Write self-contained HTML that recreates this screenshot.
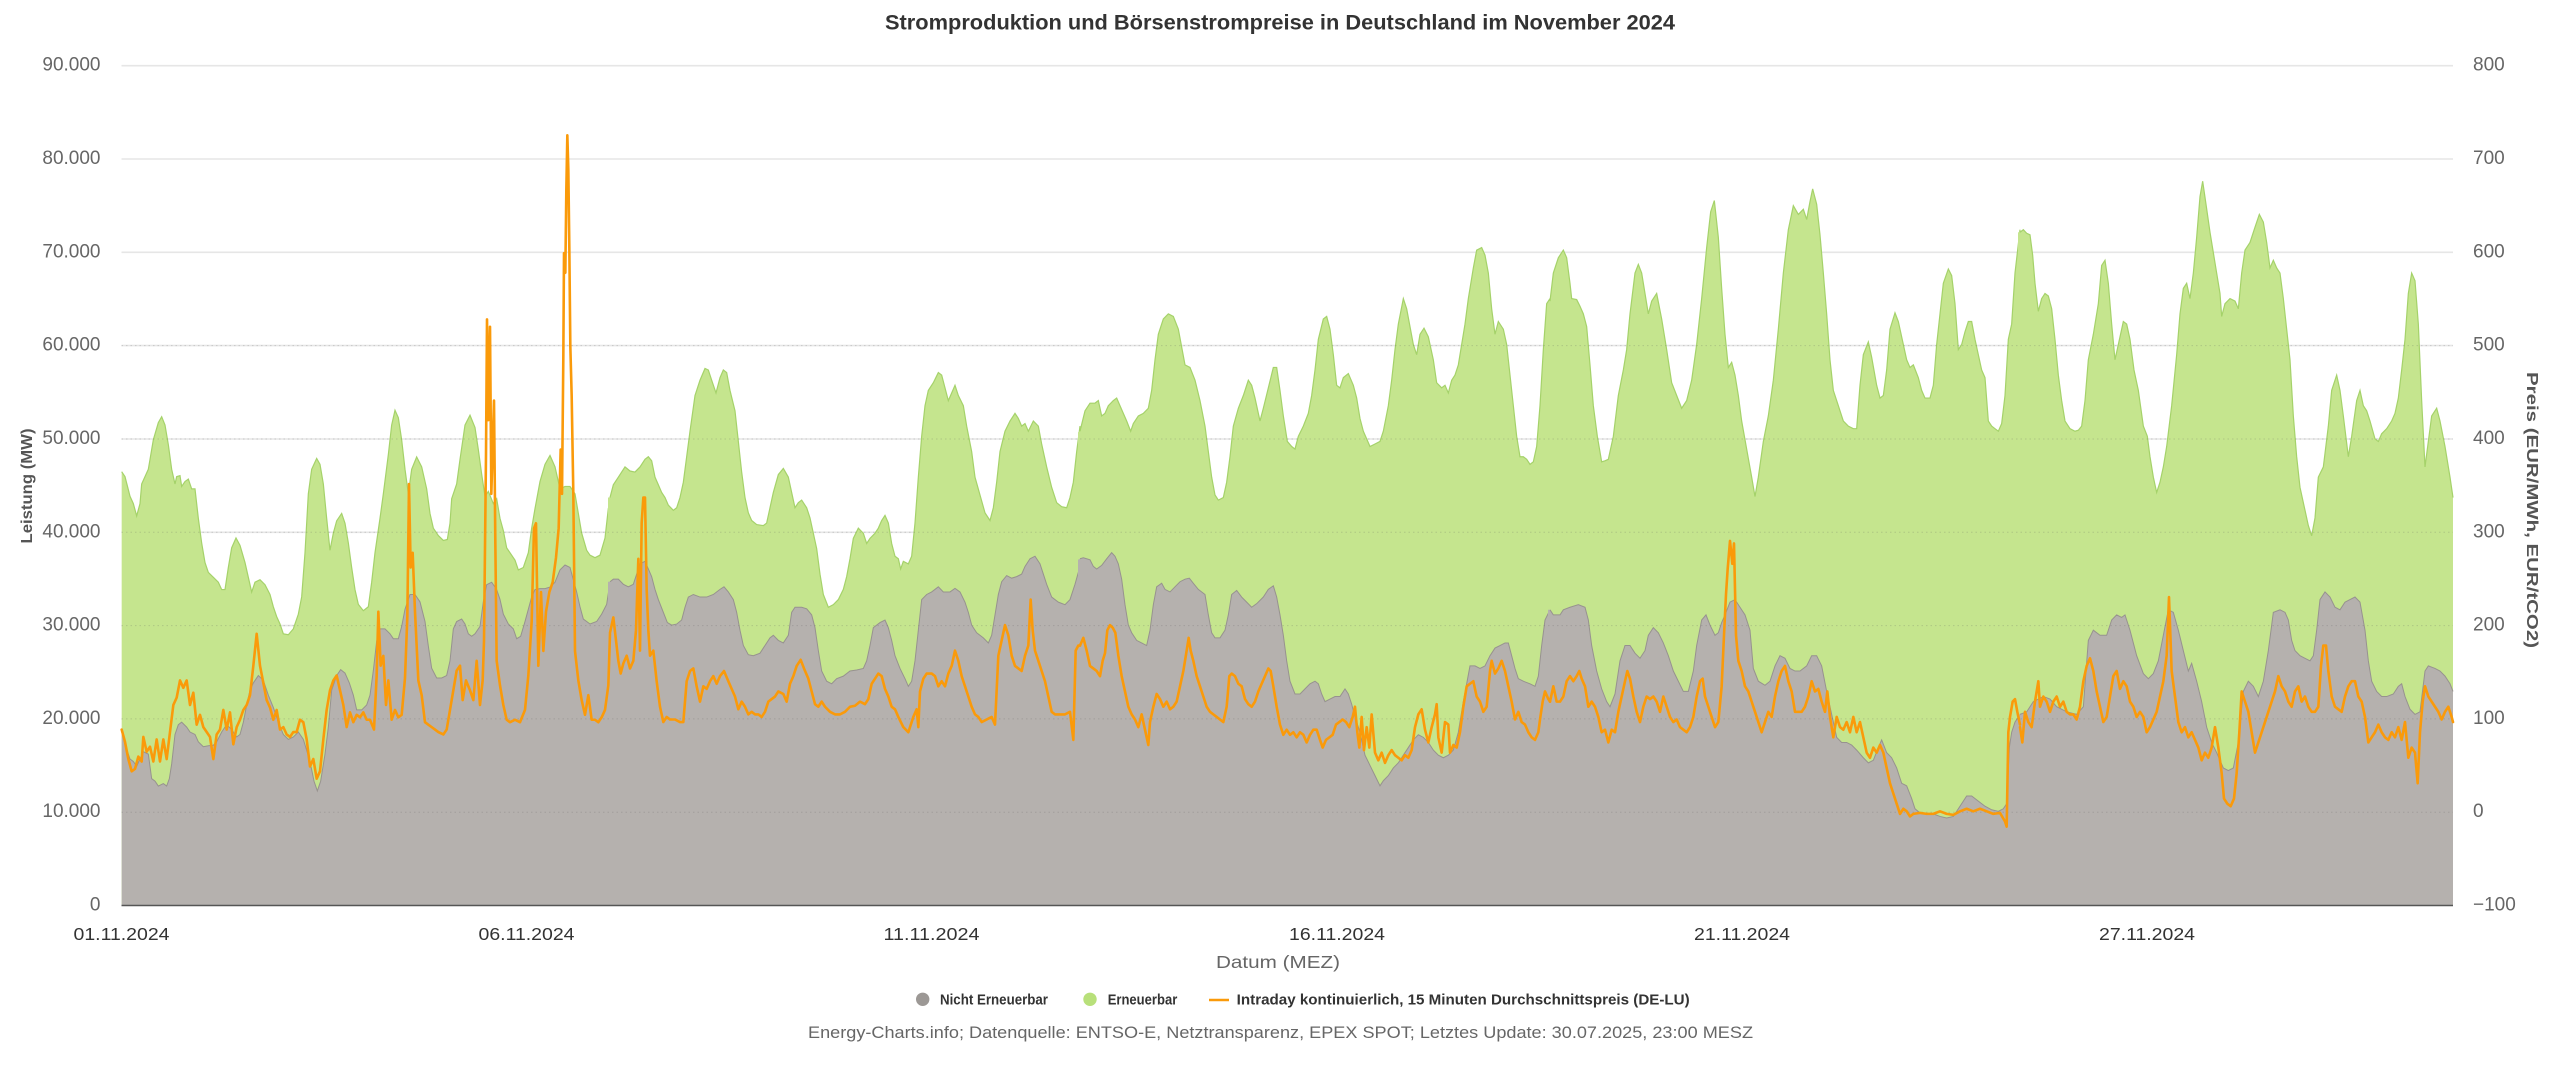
<!DOCTYPE html>
<html><head><meta charset="utf-8"><style>
html,body{margin:0;padding:0;background:#fff;width:2560px;height:1067px;overflow:hidden}
svg{display:block;font-family:"Liberation Sans",sans-serif}
</style></head><body>
<svg width="2560" height="1067" viewBox="0 0 2560 1067" xmlns="http://www.w3.org/2000/svg">
<rect width="2560" height="1067" fill="#fff"/>
<!-- gridlines -->
<g stroke="#e6e6e6" stroke-width="1.6">
<line x1="121.5" x2="2453" y1="65.7" y2="65.7"/><line x1="121.5" x2="2453" y1="159" y2="159"/><line x1="121.5" x2="2453" y1="252.3" y2="252.3"/><line x1="121.5" x2="2453" y1="345.6" y2="345.6"/><line x1="121.5" x2="2453" y1="439" y2="439"/><line x1="121.5" x2="2453" y1="532.3" y2="532.3"/><line x1="121.5" x2="2453" y1="625.6" y2="625.6"/><line x1="121.5" x2="2453" y1="718.9" y2="718.9"/><line x1="121.5" x2="2453" y1="812.2" y2="812.2"/>
</g>

<!-- Segment A -->
<g transform="translate(110 150) scale(0.333333 0.491159)">
<polygon fill="#c5e58e" points="35,655 45,665 60,705 70,720 80,745 90,720 95,680 105,665 115,650 120,630 130,590 145,555 155,543 165,560 175,600 185,650 195,680 200,665 210,663 215,685 225,675 235,670 245,690 255,690 265,750 275,800 285,840 295,860 310,870 325,880 335,895 345,895 355,850 365,810 378,790 390,805 405,840 415,870 425,900 435,880 450,875 465,885 480,905 490,930 500,950 510,965 520,985 535,987 550,975 565,945 575,910 585,820 595,700 605,650 620,628 630,640 640,680 650,750 660,815 670,780 680,755 695,740 705,760 715,800 725,850 735,895 745,925 760,938 775,930 785,880 795,820 810,750 820,700 835,620 845,560 855,530 865,545 875,590 885,650 895,700 905,650 920,625 935,645 950,690 960,740 970,770 985,785 1000,795 1012,793 1020,760 1025,710 1040,680 1050,630 1065,560 1080,540 1095,565 1105,610 1115,660 1125,705 1135,695 1150,720 1160,710 1170,750 1180,775 1190,810 1205,825 1215,835 1225,855 1240,850 1255,820 1265,770 1275,730 1290,675 1305,640 1320,622 1335,645 1350,690 1365,685 1380,685 1395,700 1405,740 1415,780 1430,815 1440,825 1455,830 1470,825 1485,790 1495,730 1502,720 1502,1538 35,1538"/>
<polyline fill="none" stroke="#a5d26a" stroke-width="1.2" vector-effect="non-scaling-stroke" points="35,655 45,665 60,705 70,720 80,745 90,720 95,680 105,665 115,650 120,630 130,590 145,555 155,543 165,560 175,600 185,650 195,680 200,665 210,663 215,685 225,675 235,670 245,690 255,690 265,750 275,800 285,840 295,860 310,870 325,880 335,895 345,895 355,850 365,810 378,790 390,805 405,840 415,870 425,900 435,880 450,875 465,885 480,905 490,930 500,950 510,965 520,985 535,987 550,975 565,945 575,910 585,820 595,700 605,650 620,628 630,640 640,680 650,750 660,815 670,780 680,755 695,740 705,760 715,800 725,850 735,895 745,925 760,938 775,930 785,880 795,820 810,750 820,700 835,620 845,560 855,530 865,545 875,590 885,650 895,700 905,650 920,625 935,645 950,690 960,740 970,770 985,785 1000,795 1012,793 1020,760 1025,710 1040,680 1050,630 1065,560 1080,540 1095,565 1105,610 1115,660 1125,705 1135,695 1150,720 1160,710 1170,750 1180,775 1190,810 1205,825 1215,835 1225,855 1240,850 1255,820 1265,770 1275,730 1290,675 1305,640 1320,622 1335,645 1350,690 1365,685 1380,685 1395,700 1405,740 1415,780 1430,815 1440,825 1455,830 1470,825 1485,790 1495,730 1500,720"/>
<polygon fill="#b5b1ae" points="35,1180 45,1210 60,1240 70,1245 80,1255 90,1240 100,1225 115,1230 125,1280 135,1285 145,1295 160,1290 170,1295 178,1280 185,1250 195,1190 205,1170 215,1165 230,1175 240,1185 255,1190 265,1205 280,1215 295,1213 310,1212 320,1205 335,1185 350,1170 365,1180 380,1195 390,1190 400,1165 410,1130 420,1100 430,1085 445,1070 460,1080 475,1110 490,1135 505,1165 520,1190 535,1200 550,1195 565,1185 580,1200 600,1245 612,1285 622,1305 632,1285 645,1230 655,1175 665,1100 680,1070 692,1058 705,1065 718,1085 730,1110 740,1140 755,1140 770,1130 780,1110 790,1060 800,1000 810,975 825,975 840,985 850,995 865,995 875,970 885,935 900,905 915,905 930,920 945,960 955,1010 965,1055 980,1075 995,1075 1010,1070 1020,1040 1030,975 1040,960 1055,955 1065,965 1075,985 1085,990 1095,985 1110,970 1120,920 1130,885 1145,880 1160,895 1170,915 1180,945 1195,965 1210,975 1220,995 1232,990 1245,960 1255,935 1265,910 1275,895 1290,893 1305,893 1320,890 1335,880 1350,855 1365,845 1380,850 1390,875 1400,900 1410,930 1420,955 1440,965 1460,960 1475,945 1490,925 1502,880 1502,1538 35,1538"/>
<polyline fill="none" stroke="#97928f" stroke-width="1" vector-effect="non-scaling-stroke" points="35,1180 45,1210 60,1240 70,1245 80,1255 90,1240 100,1225 115,1230 125,1280 135,1285 145,1295 160,1290 170,1295 178,1280 185,1250 195,1190 205,1170 215,1165 230,1175 240,1185 255,1190 265,1205 280,1215 295,1213 310,1212 320,1205 335,1185 350,1170 365,1180 380,1195 390,1190 400,1165 410,1130 420,1100 430,1085 445,1070 460,1080 475,1110 490,1135 505,1165 520,1190 535,1200 550,1195 565,1185 580,1200 600,1245 612,1285 622,1305 632,1285 645,1230 655,1175 665,1100 680,1070 692,1058 705,1065 718,1085 730,1110 740,1140 755,1140 770,1130 780,1110 790,1060 800,1000 810,975 825,975 840,985 850,995 865,995 875,970 885,935 900,905 915,905 930,920 945,960 955,1010 965,1055 980,1075 995,1075 1010,1070 1020,1040 1030,975 1040,960 1055,955 1065,965 1075,985 1085,990 1095,985 1110,970 1120,920 1130,885 1145,880 1160,895 1170,915 1180,945 1195,965 1210,975 1220,995 1232,990 1245,960 1255,935 1265,910 1275,895 1290,893 1305,893 1320,890 1335,880 1350,855 1365,845 1380,850 1390,875 1400,900 1410,930 1420,955 1440,965 1460,960 1475,945 1490,925 1500,880"/>
</g>

<!-- Segment B -->
<g transform="translate(580 120) scale(0.333333 0.510204)">
<polygon fill="#c5e58e" points="84,740 90,740 100,715 115,700 135,680 150,688 165,690 180,680 195,665 205,660 215,668 225,700 235,715 245,730 255,740 265,755 280,765 290,760 300,740 310,710 320,660 330,610 345,540 360,510 375,487 385,490 395,510 408,535 420,505 430,490 440,495 450,530 465,570 475,630 485,690 495,740 505,770 515,785 530,793 550,795 560,790 570,760 580,730 595,695 610,683 625,700 635,730 645,760 655,750 665,745 680,760 690,780 700,810 710,840 720,890 730,930 745,955 760,950 775,940 790,920 800,895 810,860 820,820 835,800 850,810 860,830 870,820 885,810 895,800 905,785 915,775 925,790 935,830 945,855 955,860 962,880 970,865 985,870 995,855 1005,790 1015,700 1025,620 1035,560 1045,530 1060,515 1075,495 1085,500 1095,525 1105,550 1115,535 1125,520 1135,540 1150,560 1160,600 1175,650 1185,700 1200,735 1215,770 1230,785 1240,760 1250,710 1260,650 1275,610 1290,590 1305,575 1315,585 1325,600 1335,595 1345,610 1360,590 1375,600 1385,635 1400,680 1415,720 1430,750 1445,758 1460,760 1470,740 1480,710 1490,650 1502,600 1502,1540 84,1540"/>
<polyline fill="none" stroke="#a5d26a" stroke-width="1.2" vector-effect="non-scaling-stroke" points="90,740 100,715 115,700 135,680 150,688 165,690 180,680 195,665 205,660 215,668 225,700 235,715 245,730 255,740 265,755 280,765 290,760 300,740 310,710 320,660 330,610 345,540 360,510 375,487 385,490 395,510 408,535 420,505 430,490 440,495 450,530 465,570 475,630 485,690 495,740 505,770 515,785 530,793 550,795 560,790 570,760 580,730 595,695 610,683 625,700 635,730 645,760 655,750 665,745 680,760 690,780 700,810 710,840 720,890 730,930 745,955 760,950 775,940 790,920 800,895 810,860 820,820 835,800 850,810 860,830 870,820 885,810 895,800 905,785 915,775 925,790 935,830 945,855 955,860 962,880 970,865 985,870 995,855 1005,790 1015,700 1025,620 1035,560 1045,530 1060,515 1075,495 1085,500 1095,525 1105,550 1115,535 1125,520 1135,540 1150,560 1160,600 1175,650 1185,700 1200,735 1215,770 1230,785 1240,760 1250,710 1260,650 1275,610 1290,590 1305,575 1315,585 1325,600 1335,595 1345,610 1360,590 1375,600 1385,635 1400,680 1415,720 1430,750 1445,758 1460,760 1470,740 1480,710 1490,650 1500,600"/>
<polygon fill="#b5b1ae" points="84,905 90,905 100,900 115,900 130,910 145,915 160,910 170,890 180,870 195,865 205,880 215,895 225,920 235,940 250,965 262,985 275,990 290,988 305,980 315,955 325,935 340,930 360,935 380,935 400,930 420,920 432,915 445,925 460,940 470,965 480,1000 490,1030 505,1048 520,1050 540,1045 555,1030 570,1015 580,1010 595,1020 610,1025 625,1010 635,965 645,955 665,955 680,958 695,970 705,995 715,1040 725,1080 740,1100 755,1105 770,1095 790,1090 810,1080 830,1078 850,1075 860,1060 870,1030 880,995 900,985 915,980 925,995 935,1020 945,1050 960,1075 975,1095 985,1110 995,1100 1005,1060 1015,1000 1025,940 1040,930 1055,925 1075,915 1090,925 1110,925 1125,918 1140,925 1155,945 1165,965 1175,990 1190,1005 1210,1015 1225,1025 1235,1010 1245,970 1255,930 1265,905 1280,893 1295,898 1310,895 1325,890 1335,875 1350,860 1365,855 1380,870 1390,890 1400,910 1415,935 1435,945 1455,950 1470,940 1485,910 1502,875 1502,1540 84,1540"/>
<polyline fill="none" stroke="#97928f" stroke-width="1" vector-effect="non-scaling-stroke" points="90,905 100,900 115,900 130,910 145,915 160,910 170,890 180,870 195,865 205,880 215,895 225,920 235,940 250,965 262,985 275,990 290,988 305,980 315,955 325,935 340,930 360,935 380,935 400,930 420,920 432,915 445,925 460,940 470,965 480,1000 490,1030 505,1048 520,1050 540,1045 555,1030 570,1015 580,1010 595,1020 610,1025 625,1010 635,965 645,955 665,955 680,958 695,970 705,995 715,1040 725,1080 740,1100 755,1105 770,1095 790,1090 810,1080 830,1078 850,1075 860,1060 870,1030 880,995 900,985 915,980 925,995 935,1020 945,1050 960,1075 975,1095 985,1110 995,1100 1005,1060 1015,1000 1025,940 1040,930 1055,925 1075,915 1090,925 1110,925 1125,918 1140,925 1155,945 1165,965 1175,990 1190,1005 1210,1015 1225,1025 1235,1010 1245,970 1255,930 1265,905 1280,893 1295,898 1310,895 1325,890 1335,875 1350,860 1365,855 1380,870 1390,890 1400,910 1415,935 1435,945 1455,950 1470,940 1485,910 1500,875"/>
</g>

<!-- Segment C -->
<g transform="translate(1050 120) scale(0.333333 0.510204)">
<polygon fill="#c5e58e" points="84,612 90,610 105,570 120,555 135,555 145,550 155,580 165,575 175,560 190,550 200,545 210,560 220,575 230,590 242,610 250,595 265,580 280,575 295,565 305,530 315,470 325,420 340,390 355,380 370,385 385,410 395,445 405,480 420,485 435,510 450,550 465,600 475,650 485,700 495,735 505,745 520,740 530,710 540,660 550,600 565,565 580,540 595,510 605,520 615,545 630,590 640,565 655,525 670,485 680,485 690,530 700,580 712,630 725,640 735,645 745,620 760,600 775,575 785,540 795,490 805,430 820,390 830,385 840,410 850,460 860,520 870,525 880,505 895,497 910,520 920,545 930,585 940,610 950,625 960,640 975,635 990,630 1000,610 1015,560 1025,510 1035,450 1045,400 1060,350 1070,370 1080,405 1090,440 1100,460 1110,420 1122,408 1135,425 1150,470 1160,515 1175,525 1185,520 1195,535 1205,510 1215,500 1225,480 1235,440 1245,400 1255,350 1270,290 1280,255 1295,250 1305,265 1315,300 1325,370 1335,420 1345,395 1360,410 1370,440 1380,500 1390,560 1400,620 1410,660 1420,660 1430,665 1440,675 1450,670 1460,640 1470,560 1480,450 1490,360 1502,350 1502,1540 84,1540"/>
<polyline fill="none" stroke="#a5d26a" stroke-width="1.2" vector-effect="non-scaling-stroke" points="90,610 105,570 120,555 135,555 145,550 155,580 165,575 175,560 190,550 200,545 210,560 220,575 230,590 242,610 250,595 265,580 280,575 295,565 305,530 315,470 325,420 340,390 355,380 370,385 385,410 395,445 405,480 420,485 435,510 450,550 465,600 475,650 485,700 495,735 505,745 520,740 530,710 540,660 550,600 565,565 580,540 595,510 605,520 615,545 630,590 640,565 655,525 670,485 680,485 690,530 700,580 712,630 725,640 735,645 745,620 760,600 775,575 785,540 795,490 805,430 820,390 830,385 840,410 850,460 860,520 870,525 880,505 895,497 910,520 920,545 930,585 940,610 950,625 960,640 975,635 990,630 1000,610 1015,560 1025,510 1035,450 1045,400 1060,350 1070,370 1080,405 1090,440 1100,460 1110,420 1122,408 1135,425 1150,470 1160,515 1175,525 1185,520 1195,535 1205,510 1215,500 1225,480 1235,440 1245,400 1255,350 1270,290 1280,255 1295,250 1305,265 1315,300 1325,370 1335,420 1345,395 1360,410 1370,440 1380,500 1390,560 1400,620 1410,660 1420,660 1430,665 1440,675 1450,670 1460,640 1470,560 1480,450 1490,360 1500,350"/>
<polygon fill="#b5b1ae" points="84,862 90,860 100,858 120,862 130,875 140,880 155,873 170,860 185,848 195,855 205,870 215,900 225,950 235,990 245,1005 260,1020 275,1025 290,1030 300,1000 310,950 320,915 335,908 345,920 360,925 375,915 390,905 405,900 418,898 430,908 445,920 465,930 475,970 485,1005 495,1015 510,1015 525,1000 535,970 545,930 560,922 575,935 590,945 605,955 620,948 640,935 655,920 670,913 680,935 690,970 700,1010 710,1060 720,1100 735,1125 750,1125 765,1115 780,1105 795,1100 805,1105 815,1125 825,1140 840,1135 855,1130 870,1130 885,1115 895,1125 905,1145 915,1170 930,1200 945,1245 960,1265 975,1285 990,1305 1000,1295 1015,1285 1030,1270 1045,1260 1060,1245 1075,1230 1090,1215 1105,1205 1120,1210 1135,1220 1150,1235 1165,1245 1180,1250 1195,1245 1210,1235 1225,1200 1240,1140 1250,1105 1260,1070 1275,1070 1290,1075 1305,1070 1320,1050 1335,1035 1350,1030 1365,1025 1375,1025 1385,1050 1395,1075 1405,1095 1420,1100 1440,1105 1455,1110 1465,1090 1475,1030 1485,980 1502,960 1502,1540 84,1540"/>
<polyline fill="none" stroke="#97928f" stroke-width="1" vector-effect="non-scaling-stroke" points="90,860 100,858 120,862 130,875 140,880 155,873 170,860 185,848 195,855 205,870 215,900 225,950 235,990 245,1005 260,1020 275,1025 290,1030 300,1000 310,950 320,915 335,908 345,920 360,925 375,915 390,905 405,900 418,898 430,908 445,920 465,930 475,970 485,1005 495,1015 510,1015 525,1000 535,970 545,930 560,922 575,935 590,945 605,955 620,948 640,935 655,920 670,913 680,935 690,970 700,1010 710,1060 720,1100 735,1125 750,1125 765,1115 780,1105 795,1100 805,1105 815,1125 825,1140 840,1135 855,1130 870,1130 885,1115 895,1125 905,1145 915,1170 930,1200 945,1245 960,1265 975,1285 990,1305 1000,1295 1015,1285 1030,1270 1045,1260 1060,1245 1075,1230 1090,1215 1105,1205 1120,1210 1135,1220 1150,1235 1165,1245 1180,1250 1195,1245 1210,1235 1225,1200 1240,1140 1250,1105 1260,1070 1275,1070 1290,1075 1305,1070 1320,1050 1335,1035 1350,1030 1365,1025 1375,1025 1385,1050 1395,1075 1405,1095 1420,1100 1440,1105 1455,1110 1465,1090 1475,1030 1485,980 1500,960"/>
</g>

<!-- Segment D -->
<g transform="translate(1520 120) scale(0.333333 0.510204)">
<polygon fill="#c5e58e" points="84,360 90,355 100,300 115,270 130,255 140,270 150,320 155,350 170,352 180,365 190,380 200,405 210,480 220,560 232,620 245,670 255,668 265,665 280,620 295,540 310,490 320,450 330,380 345,300 355,283 365,300 375,340 385,380 395,355 410,340 425,390 440,450 455,515 470,540 485,565 500,550 515,510 530,440 545,350 560,250 572,180 583,158 595,230 605,330 615,420 625,485 635,475 645,500 655,540 665,590 680,645 695,700 705,738 715,700 730,630 745,580 760,510 775,410 790,300 805,215 820,168 835,185 850,175 860,195 870,160 878,135 890,165 900,225 910,300 920,380 930,470 940,530 955,560 970,590 985,600 1000,605 1010,605 1020,520 1030,460 1045,435 1055,465 1070,520 1080,545 1090,540 1100,490 1110,410 1125,378 1135,395 1150,440 1160,470 1170,485 1180,480 1195,505 1205,530 1215,545 1230,545 1240,520 1250,440 1260,380 1270,320 1285,292 1295,305 1305,360 1315,450 1325,440 1335,415 1345,395 1355,395 1365,430 1375,460 1385,490 1395,505 1405,590 1415,600 1425,605 1435,610 1445,595 1455,540 1465,430 1475,400 1485,300 1502,215 1502,1540 84,1540"/>
<polyline fill="none" stroke="#a5d26a" stroke-width="1.2" vector-effect="non-scaling-stroke" points="90,355 100,300 115,270 130,255 140,270 150,320 155,350 170,352 180,365 190,380 200,405 210,480 220,560 232,620 245,670 255,668 265,665 280,620 295,540 310,490 320,450 330,380 345,300 355,283 365,300 375,340 385,380 395,355 410,340 425,390 440,450 455,515 470,540 485,565 500,550 515,510 530,440 545,350 560,250 572,180 583,158 595,230 605,330 615,420 625,485 635,475 645,500 655,540 665,590 680,645 695,700 705,738 715,700 730,630 745,580 760,510 775,410 790,300 805,215 820,168 835,185 850,175 860,195 870,160 878,135 890,165 900,225 910,300 920,380 930,470 940,530 955,560 970,590 985,600 1000,605 1010,605 1020,520 1030,460 1045,435 1055,465 1070,520 1080,545 1090,540 1100,490 1110,410 1125,378 1135,395 1150,440 1160,470 1170,485 1180,480 1195,505 1205,530 1215,545 1230,545 1240,520 1250,440 1260,380 1270,320 1285,292 1295,305 1305,360 1315,450 1325,440 1335,415 1345,395 1355,395 1365,430 1375,460 1385,490 1395,505 1405,590 1415,600 1425,605 1435,610 1445,595 1455,540 1465,430 1475,400 1485,300 1500,215"/>
<polygon fill="#b5b1ae" points="84,960 90,960 100,970 120,970 130,960 150,955 175,950 195,955 205,980 215,1030 230,1080 245,1115 260,1140 270,1150 285,1125 300,1060 315,1030 330,1030 345,1045 360,1055 375,1040 385,1010 400,995 415,1005 430,1025 445,1050 460,1080 475,1100 490,1120 505,1120 520,1080 530,1030 545,980 558,970 570,990 585,1010 595,1005 605,985 615,970 630,945 645,940 660,955 675,970 690,1000 700,1075 715,1100 735,1108 750,1100 765,1070 780,1050 795,1055 810,1075 825,1080 840,1080 860,1070 875,1050 890,1050 905,1070 920,1120 935,1165 950,1210 965,1220 980,1220 995,1225 1010,1235 1030,1250 1045,1260 1060,1255 1075,1230 1085,1215 1100,1240 1115,1250 1130,1270 1145,1300 1160,1305 1175,1330 1185,1350 1200,1358 1220,1360 1240,1360 1260,1365 1280,1368 1300,1365 1320,1345 1340,1325 1355,1325 1375,1335 1395,1345 1415,1352 1435,1355 1450,1350 1460,1340 1468,1230 1475,1200 1485,1180 1502,1165 1502,1540 84,1540"/>
<polyline fill="none" stroke="#97928f" stroke-width="1" vector-effect="non-scaling-stroke" points="90,960 100,970 120,970 130,960 150,955 175,950 195,955 205,980 215,1030 230,1080 245,1115 260,1140 270,1150 285,1125 300,1060 315,1030 330,1030 345,1045 360,1055 375,1040 385,1010 400,995 415,1005 430,1025 445,1050 460,1080 475,1100 490,1120 505,1120 520,1080 530,1030 545,980 558,970 570,990 585,1010 595,1005 605,985 615,970 630,945 645,940 660,955 675,970 690,1000 700,1075 715,1100 735,1108 750,1100 765,1070 780,1050 795,1055 810,1075 825,1080 840,1080 860,1070 875,1050 890,1050 905,1070 920,1120 935,1165 950,1210 965,1220 980,1220 995,1225 1010,1235 1030,1250 1045,1260 1060,1255 1075,1230 1085,1215 1100,1240 1115,1250 1130,1270 1145,1300 1160,1305 1175,1330 1185,1350 1200,1358 1220,1360 1240,1360 1260,1365 1280,1368 1300,1365 1320,1345 1340,1325 1355,1325 1375,1335 1395,1345 1415,1352 1435,1355 1450,1350 1460,1340 1468,1230 1475,1200 1485,1180 1500,1165"/>
</g>

<!-- Segment E -->
<g transform="translate(1990 120) scale(0.333333 0.510204)">
<polygon fill="#c5e58e" points="84,220 90,220 100,215 110,222 120,225 128,265 135,320 145,375 155,350 165,340 175,345 185,370 195,430 205,500 215,550 225,590 240,605 255,610 265,608 275,600 285,550 295,470 310,420 325,360 335,285 345,275 355,320 365,400 375,470 385,440 400,395 410,400 420,430 432,490 445,530 460,600 472,620 480,660 490,700 500,730 510,710 520,680 530,640 545,560 560,460 570,380 580,330 590,320 600,350 610,300 620,230 630,150 638,120 648,165 660,220 670,260 680,300 690,340 695,385 705,360 720,350 735,355 745,370 755,300 765,255 780,240 795,210 808,185 820,200 830,240 840,290 850,275 860,290 870,300 880,350 890,410 900,470 910,580 920,660 930,720 945,765 955,795 965,815 975,780 985,700 1000,680 1015,600 1025,530 1040,500 1050,530 1060,580 1075,660 1085,620 1100,550 1110,530 1120,560 1130,570 1140,590 1155,625 1165,630 1175,615 1190,605 1205,590 1215,575 1225,545 1235,490 1245,430 1255,340 1265,300 1275,315 1285,400 1295,550 1305,680 1315,630 1325,580 1340,565 1350,590 1365,640 1380,700 1389,740 1389,1540 84,1540"/>
<polyline fill="none" stroke="#a5d26a" stroke-width="1.2" vector-effect="non-scaling-stroke" points="90,220 100,215 110,222 120,225 128,265 135,320 145,375 155,350 165,340 175,345 185,370 195,430 205,500 215,550 225,590 240,605 255,610 265,608 275,600 285,550 295,470 310,420 325,360 335,285 345,275 355,320 365,400 375,470 385,440 400,395 410,400 420,430 432,490 445,530 460,600 472,620 480,660 490,700 500,730 510,710 520,680 530,640 545,560 560,460 570,380 580,330 590,320 600,350 610,300 620,230 630,150 638,120 648,165 660,220 670,260 680,300 690,340 695,385 705,360 720,350 735,355 745,370 755,300 765,255 780,240 795,210 808,185 820,200 830,240 840,290 850,275 860,290 870,300 880,350 890,410 900,470 910,580 920,660 930,720 945,765 955,795 965,815 975,780 985,700 1000,680 1015,600 1025,530 1040,500 1050,530 1060,580 1075,660 1085,620 1100,550 1110,530 1120,560 1130,570 1140,590 1155,625 1165,630 1175,615 1190,605 1205,590 1215,575 1225,545 1235,490 1245,430 1255,340 1265,300 1275,315 1285,400 1295,550 1305,680 1315,630 1325,580 1340,565 1350,590 1365,640 1380,700 1389,740"/>
<polygon fill="#b5b1ae" points="84,1165 90,1165 110,1160 130,1140 160,1130 180,1135 200,1150 230,1160 260,1165 280,1150 295,1020 310,1000 330,1010 350,1010 365,980 380,970 395,975 405,970 420,1000 440,1050 460,1085 475,1095 490,1085 505,1060 520,1010 535,960 550,965 565,1000 580,1040 595,1080 605,1065 620,1100 635,1140 650,1190 665,1220 680,1240 700,1270 715,1275 730,1270 745,1220 760,1120 775,1100 790,1110 805,1130 820,1100 835,1040 850,965 870,960 885,965 895,980 905,1020 915,1040 930,1050 945,1055 960,1060 970,1050 980,1000 990,940 1005,925 1020,935 1035,955 1050,960 1065,945 1080,940 1095,935 1110,945 1125,1000 1135,1060 1145,1100 1160,1120 1175,1130 1190,1130 1210,1125 1225,1110 1235,1105 1245,1130 1260,1155 1275,1165 1290,1160 1305,1080 1315,1070 1335,1075 1350,1080 1365,1090 1380,1105 1389,1120 1389,1540 84,1540"/>
<polyline fill="none" stroke="#97928f" stroke-width="1" vector-effect="non-scaling-stroke" points="90,1165 110,1160 130,1140 160,1130 180,1135 200,1150 230,1160 260,1165 280,1150 295,1020 310,1000 330,1010 350,1010 365,980 380,970 395,975 405,970 420,1000 440,1050 460,1085 475,1095 490,1085 505,1060 520,1010 535,960 550,965 565,1000 580,1040 595,1080 605,1065 620,1100 635,1140 650,1190 665,1220 680,1240 700,1270 715,1275 730,1270 745,1220 760,1120 775,1100 790,1110 805,1130 820,1100 835,1040 850,965 870,960 885,965 895,980 905,1020 915,1040 930,1050 945,1055 960,1060 970,1050 980,1000 990,940 1005,925 1020,935 1035,955 1050,960 1065,945 1080,940 1095,935 1110,945 1125,1000 1135,1060 1145,1100 1160,1120 1175,1130 1190,1130 1210,1125 1225,1110 1235,1105 1245,1130 1260,1155 1275,1165 1290,1160 1305,1080 1315,1070 1335,1075 1350,1080 1365,1090 1380,1105 1389,1120"/>
</g>

<!-- dotted overlay grid -->
<g stroke="rgba(90,90,90,0.22)" stroke-width="1" stroke-dasharray="1.5 3">
<line x1="121.5" x2="2453" y1="345.6" y2="345.6"/><line x1="121.5" x2="2453" y1="439" y2="439"/><line x1="121.5" x2="2453" y1="532.3" y2="532.3"/><line x1="121.5" x2="2453" y1="625.6" y2="625.6"/><line x1="121.5" x2="2453" y1="718.9" y2="718.9"/><line x1="121.5" x2="2453" y1="812.2" y2="812.2"/>
</g>

<!-- Orange price line -->
<g fill="none" stroke="#fa9a0a" stroke-width="2.6" stroke-linejoin="round" stroke-linecap="round">
<g transform="translate(110 150) scale(0.333333 0.491159)">
<polyline vector-effect="non-scaling-stroke" points="35,1180 45,1205 55,1240 65,1265 75,1260 85,1235 95,1245 100,1195 110,1225 120,1215 130,1245 140,1200 150,1245 160,1200 170,1240 180,1185 190,1130 200,1115 210,1080 220,1095 230,1080 240,1130 250,1105 260,1170 270,1150 280,1175 290,1185 300,1195 310,1240 320,1190 330,1180 340,1140 350,1180 360,1145 370,1210 380,1175 390,1160 400,1140 410,1130 420,1110 430,1050 440,985 450,1050 460,1085 470,1120 480,1135 490,1160 500,1140 510,1180 520,1175 530,1190 540,1195 550,1185 560,1185 570,1160 580,1165 590,1200 600,1255 610,1240 620,1280 630,1265 640,1200 650,1140 660,1100 670,1080 680,1070 690,1100 700,1130 710,1175 720,1145 730,1165 740,1150 750,1155 760,1145 770,1160 780,1160 792,1180 800,1070 805,940 812,1050 820,1030 828,1130 835,1080 845,1160 855,1140 865,1155 875,1150 885,1075 892,950 897,680 902,850 908,820 915,940 925,1080 935,1110 945,1165 955,1170 965,1175 975,1180 985,1185 1000,1190 1010,1180 1020,1140 1030,1100 1040,1060 1050,1050 1058,1120 1068,1080 1080,1100 1090,1120 1100,1040 1110,1130 1118,1080 1122,1000 1128,620 1131,345 1135,550 1140,360 1144,700 1148,600 1152,510 1156,800 1160,1040 1170,1090 1180,1130 1190,1160 1200,1165 1215,1160 1230,1165 1245,1140 1255,1070 1265,960 1272,770 1278,760 1285,1050 1293,900 1300,1020 1308,940 1318,900 1328,880 1338,830 1346,770 1352,610 1356,700 1360,420 1362,210 1366,250 1369,80 1372,-30 1375,40 1378,200 1381,400 1385,500 1390,700 1395,1020 1405,1080 1415,1120 1425,1150 1435,1110 1445,1160 1455,1160 1465,1165 1475,1155 1485,1140 1495,1090 1500,985"/>
</g>
<g transform="translate(580 120) scale(0.333333 0.510204)">
<polyline vector-effect="non-scaling-stroke" points="90,1005 100,975 108,1020 115,1060 122,1085 130,1065 140,1050 150,1075 160,1060 168,1000 175,860 180,1040 185,790 190,740 195,740 200,920 205,1000 210,1050 220,1040 230,1100 240,1150 250,1180 260,1170 270,1175 285,1175 300,1180 310,1180 320,1100 330,1080 340,1075 350,1110 360,1140 370,1110 380,1115 390,1100 400,1090 410,1105 420,1090 432,1080 445,1100 455,1115 465,1130 475,1155 485,1140 495,1150 505,1165 515,1160 525,1165 535,1165 545,1170 555,1160 565,1140 575,1135 585,1130 595,1120 610,1125 620,1140 630,1105 640,1090 650,1070 662,1058 672,1075 685,1095 695,1120 705,1145 715,1150 725,1140 735,1150 750,1160 765,1165 780,1165 795,1160 810,1150 825,1148 840,1140 855,1145 865,1135 875,1105 885,1095 895,1085 905,1090 915,1115 925,1130 935,1150 945,1155 955,1170 970,1190 985,1200 1000,1170 1010,1155 1015,1190 1020,1120 1030,1095 1040,1085 1055,1085 1065,1090 1075,1110 1085,1100 1095,1110 1105,1085 1115,1070 1125,1040 1135,1060 1145,1090 1155,1110 1165,1130 1175,1150 1185,1165 1195,1170 1205,1180 1220,1175 1235,1170 1245,1185 1255,1050 1265,1020 1275,990 1285,1010 1295,1050 1305,1070 1315,1075 1325,1080 1335,1050 1345,1030 1352,940 1358,1000 1365,1040 1375,1060 1385,1080 1395,1100 1405,1130 1415,1160 1425,1165 1440,1165 1455,1165 1470,1160 1480,1215 1487,1040 1495,1030 1500,1030"/>
</g>
<g transform="translate(1050 120) scale(0.333333 0.510204)">
<polyline vector-effect="non-scaling-stroke" points="90,1030 100,1015 110,1040 120,1070 130,1075 140,1080 150,1090 158,1060 165,1045 172,1000 180,990 188,995 196,1005 205,1050 215,1090 225,1120 235,1150 245,1165 255,1175 265,1190 275,1165 285,1195 295,1225 300,1180 310,1150 320,1125 330,1135 340,1150 350,1140 360,1155 370,1150 380,1140 390,1110 400,1080 410,1040 416,1015 422,1040 430,1060 440,1090 450,1110 460,1130 470,1150 480,1160 490,1165 500,1170 510,1175 520,1180 530,1150 538,1090 545,1085 555,1090 565,1105 575,1110 585,1135 595,1145 605,1150 615,1140 625,1120 635,1105 645,1090 655,1075 662,1080 670,1110 680,1150 690,1185 700,1205 710,1195 720,1205 730,1200 740,1210 750,1200 760,1205 770,1220 780,1205 790,1195 800,1195 810,1215 818,1230 828,1215 838,1210 848,1205 858,1185 868,1180 878,1175 888,1180 898,1190 908,1170 915,1150 922,1200 928,1230 935,1170 942,1235 950,1190 958,1230 965,1165 975,1240 985,1255 995,1240 1005,1260 1015,1245 1025,1235 1035,1245 1045,1250 1055,1255 1065,1245 1075,1250 1085,1235 1095,1190 1105,1165 1115,1155 1125,1195 1135,1220 1145,1190 1155,1165 1160,1145 1165,1210 1175,1240 1185,1180 1195,1185 1200,1240 1210,1225 1220,1230 1230,1200 1240,1150 1250,1110 1260,1105 1270,1100 1280,1130 1290,1140 1300,1160 1310,1150 1320,1080 1325,1060 1335,1085 1345,1075 1355,1060 1365,1080 1375,1110 1385,1140 1395,1175 1405,1160 1415,1180 1425,1185 1435,1200 1445,1210 1455,1215 1465,1200 1470,1175 1478,1140 1485,1120 1495,1135 1500,1140"/>
</g>
<g transform="translate(1520 120) scale(0.333333 0.510204)">
<polyline vector-effect="non-scaling-stroke" points="90,1140 100,1110 110,1140 120,1140 130,1130 140,1100 150,1090 160,1100 170,1090 178,1080 185,1095 195,1110 205,1150 215,1140 225,1150 235,1170 245,1200 255,1195 265,1220 275,1195 285,1200 295,1160 305,1130 315,1100 322,1080 330,1095 340,1130 350,1160 360,1180 370,1150 380,1130 390,1135 400,1130 410,1140 420,1160 430,1130 440,1150 450,1170 460,1180 470,1175 480,1190 490,1195 500,1200 510,1190 520,1170 530,1130 540,1100 548,1095 555,1130 565,1150 575,1170 585,1190 595,1180 605,1110 612,1010 618,930 623,880 630,825 637,870 642,830 648,1010 655,1060 665,1080 675,1110 685,1120 695,1140 705,1160 715,1180 725,1200 735,1180 745,1160 755,1170 765,1130 775,1100 785,1080 795,1070 805,1100 815,1120 825,1160 835,1160 845,1160 855,1150 865,1130 875,1100 885,1120 895,1115 905,1140 915,1160 922,1120 930,1170 940,1210 950,1170 960,1190 970,1195 980,1180 990,1200 1000,1170 1010,1200 1020,1180 1030,1210 1040,1240 1050,1250 1060,1230 1070,1240 1080,1225 1090,1240 1100,1270 1110,1300 1120,1320 1130,1340 1140,1360 1150,1350 1160,1355 1170,1365 1180,1360 1200,1358 1220,1360 1240,1360 1260,1355 1280,1360 1300,1362 1320,1355 1340,1350 1360,1355 1380,1350 1400,1355 1420,1360 1440,1358 1455,1375 1460,1385 1465,1200 1470,1170 1478,1140 1485,1135 1492,1160 1500,1185"/>
</g>
<g transform="translate(1990 120) scale(0.333333 0.510204)">
<polyline vector-effect="non-scaling-stroke" points="90,1190 97,1220 105,1160 115,1180 125,1190 135,1140 145,1100 150,1150 160,1130 170,1140 180,1160 190,1140 200,1130 210,1150 220,1140 230,1160 240,1165 250,1165 260,1175 270,1150 280,1100 290,1070 300,1055 310,1080 320,1120 330,1150 340,1180 350,1170 360,1130 370,1090 380,1080 390,1115 400,1100 410,1110 420,1140 430,1150 440,1170 450,1160 460,1170 470,1200 480,1190 490,1175 500,1160 510,1130 520,1100 530,1050 537,935 545,1080 555,1130 565,1180 575,1200 585,1190 595,1210 605,1200 615,1215 625,1230 635,1255 645,1240 655,1250 665,1230 675,1190 685,1230 695,1280 702,1330 712,1340 722,1345 732,1330 740,1280 748,1200 755,1120 765,1140 775,1160 785,1200 795,1240 805,1220 815,1200 825,1180 835,1160 845,1140 855,1120 865,1090 875,1110 885,1120 895,1140 905,1150 915,1120 925,1110 935,1140 945,1130 955,1150 965,1160 975,1160 985,1150 993,1070 1000,1030 1008,1030 1015,1080 1025,1130 1035,1150 1045,1155 1055,1160 1065,1130 1075,1110 1085,1100 1095,1100 1105,1130 1115,1140 1125,1170 1135,1220 1145,1210 1155,1200 1165,1185 1175,1200 1185,1210 1195,1215 1205,1200 1215,1210 1225,1190 1235,1215 1245,1180 1255,1250 1265,1230 1275,1240 1283,1300 1290,1200 1298,1140 1305,1110 1315,1130 1325,1140 1335,1150 1345,1160 1355,1175 1365,1160 1375,1150 1385,1170 1389,1180"/>
</g>
</g>

<!-- x axis line -->
<line x1="121.5" x2="2453" y1="905.5" y2="905.5" stroke="#555" stroke-width="1.6"/>

<!-- Title -->
<text x="885" y="29.5" font-size="21" font-weight="bold" fill="#333" textLength="790" lengthAdjust="spacingAndGlyphs">Stromproduktion und Börsenstrompreise in Deutschland im November 2024</text>

<!-- Left axis labels -->
<g font-size="19" fill="#666" text-anchor="end">
<text x="100.5" y="70.7">90.000</text>
<text x="100.5" y="164">80.000</text>
<text x="100.5" y="257.3">70.000</text>
<text x="100.5" y="350.6">60.000</text>
<text x="100.5" y="444">50.000</text>
<text x="100.5" y="537.3">40.000</text>
<text x="100.5" y="630.6">30.000</text>
<text x="100.5" y="723.9">20.000</text>
<text x="100.5" y="817.2">10.000</text>
<text x="100.5" y="910.5">0</text>
</g>
<!-- Right axis labels -->
<g font-size="19" fill="#666" text-anchor="start">
<text x="2473" y="70.7">800</text>
<text x="2473" y="164">700</text>
<text x="2473" y="257.3">600</text>
<text x="2473" y="350.6">500</text>
<text x="2473" y="444">400</text>
<text x="2473" y="537.3">300</text>
<text x="2473" y="630.6">200</text>
<text x="2473" y="723.9">100</text>
<text x="2473" y="817.2">0</text>
<text x="2473" y="910.5">−100</text>
</g>

<!-- Axis titles -->
<text transform="translate(32 486) rotate(-90)" text-anchor="middle" font-size="15.5" font-weight="bold" fill="#555" textLength="115" lengthAdjust="spacingAndGlyphs">Leistung (MW)</text>
<text transform="translate(2527 510) rotate(90)" text-anchor="middle" font-size="15.5" font-weight="bold" fill="#555" textLength="276" lengthAdjust="spacingAndGlyphs">Preis (EUR/MWh, EUR/tCO2)</text>

<!-- X labels -->
<g font-size="17.5" fill="#333" text-anchor="middle">
<text x="121.5" y="940" textLength="96" lengthAdjust="spacingAndGlyphs">01.11.2024</text>
<text x="526.5" y="940" textLength="96" lengthAdjust="spacingAndGlyphs">06.11.2024</text>
<text x="931.5" y="940" textLength="96" lengthAdjust="spacingAndGlyphs">11.11.2024</text>
<text x="1337" y="940" textLength="96" lengthAdjust="spacingAndGlyphs">16.11.2024</text>
<text x="1742" y="940" textLength="96" lengthAdjust="spacingAndGlyphs">21.11.2024</text>
<text x="2147" y="940" textLength="96" lengthAdjust="spacingAndGlyphs">27.11.2024</text>
</g>
<text x="1216" y="968" font-size="17.5" fill="#666" textLength="124" lengthAdjust="spacingAndGlyphs">Datum (MEZ)</text>

<!-- Legend -->
<circle cx="922.7" cy="999.3" r="6.7" fill="#9c9895"/>
<text x="940" y="1004.5" font-size="14.5" font-weight="bold" fill="#333" textLength="108" lengthAdjust="spacingAndGlyphs">Nicht Erneuerbar</text>
<circle cx="1090" cy="999.3" r="6.7" fill="#b8e07a"/>
<text x="1107.7" y="1004.5" font-size="14.5" font-weight="bold" fill="#333" textLength="69.6" lengthAdjust="spacingAndGlyphs">Erneuerbar</text>
<line x1="1209" x2="1229" y1="1000" y2="1000" stroke="#fa9a0a" stroke-width="2.5"/>
<text x="1236.7" y="1004.5" font-size="14.5" font-weight="bold" fill="#333" textLength="453" lengthAdjust="spacingAndGlyphs">Intraday kontinuierlich, 15 Minuten Durchschnittspreis (DE-LU)</text>

<!-- Credits -->
<text x="808" y="1038" font-size="17" fill="#666" textLength="945" lengthAdjust="spacingAndGlyphs">Energy-Charts.info; Datenquelle: ENTSO-E, Netztransparenz, EPEX SPOT; Letztes Update: 30.07.2025, 23:00 MESZ</text>
</svg>
</body></html>
